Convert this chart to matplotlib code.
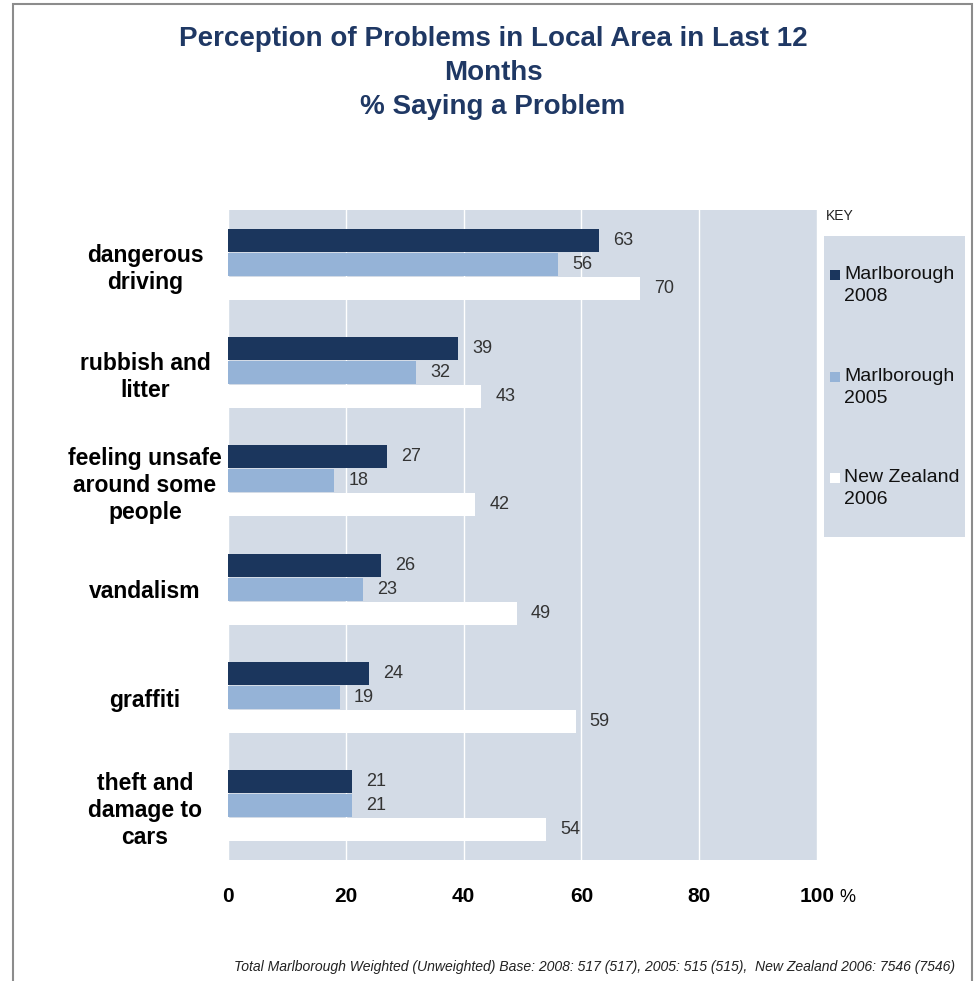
import matplotlib
matplotlib.use("Agg")
import matplotlib.pyplot as plt
from matplotlib.patches import Rectangle
import numpy as np

plt.rcParams['font.family'] = ['Liberation Sans', 'DejaVu Sans']

categories = ["dangerous\ndriving", "rubbish and\nlitter", "feeling unsafe\naround some\npeople",
              "vandalism", "graffiti", "theft and\ndamage to\ncars"]
series_names = ["Marlborough\n2008", "Marlborough\n2005", "New Zealand\n2006"]
marlborough_2008 = [63, 39, 27, 26, 24, 21]
marlborough_2005 = [56, 32, 18, 23, 19, 21]
new_zealand_2006 = [70, 43, 42, 49, 59, 54]
x_ticks = [0, 20, 40, 60, 80, 100]
x_tick_labels = ["0", "20", "40", "60", "80", "100"]

colors = ["#1B365D", "#95B3D7", "#FFFFFF"]
panel_bg = "#D3DBE6"
title_color = "#1F3864"

W, H = 980, 981
PX = 72 / 100  # points per pixel at dpi 100
fig = plt.figure(figsize=(9.8, 9.81), dpi=100)
fig.patch.set_facecolor("white")

# outer frame
fig.add_artist(Rectangle((13 / W, -0.01), (972 - 13) / W, (H - 4) / H + 0.01,
                         transform=fig.transFigure, fill=False,
                         edgecolor="#8C8C8C", linewidth=1.5))

ax = fig.add_axes([228 / W, 1 - 860 / H, (817 - 228) / W, (860 - 210) / H])
ax.set_facecolor(panel_bg)

y = np.arange(len(categories))
bar_h = 0.212
offsets = [-0.222, 0.0, 0.222]
all_series = [marlborough_2008, marlborough_2005, new_zealand_2006]

for vals, off, col in zip(all_series, offsets, colors):
    ax.barh(y + off, vals, height=bar_h, color=col, zorder=3)
    for yi, v in zip(y, vals):
        ax.text(v + 2.4, yi + off, str(v), va="center", ha="left",
                fontsize=13, color="#333333", zorder=4)

ax.set_xlim(0, 100)
ax.set_ylim(len(categories) - 0.5, -0.5)
ax.set_xticks(x_ticks)
ax.set_xticklabels(x_tick_labels, fontsize=15, fontweight="bold")
ax.set_yticks(y)
ax.set_yticklabels(categories, fontsize=16.5, fontweight="bold", ha="center",
                   linespacing=1.22)
ax.tick_params(axis="y", length=0, pad=83 * PX)
ax.tick_params(axis="x", length=0, pad=27 * PX)
for s in ax.spines.values():
    s.set_visible(False)
ax.xaxis.grid(True, color="white", linewidth=1, zorder=1)
ax.set_axisbelow(True)

# percent sign after the last tick label
fig.text(839 / W, 1 - 902 / H, "%", fontsize=13, va="baseline", ha="left")

# title
fig.text(493 / W, 1 - 73 / H,
         "Perception of Problems in Local Area in Last 12\nMonths\n% Saying a Problem",
         ha="center", va="center", fontsize=20, fontweight="bold",
         color=title_color, linespacing=1.4)

# key panel
fig.text(826 / W, 1 - 216 / H, "KEY", fontsize=10, va="center", ha="left", color="#222222")
fig.add_artist(Rectangle((824 / W, 1 - 537 / H), (965 - 824) / W, (537 - 236) / H,
                         transform=fig.transFigure, facecolor=panel_bg, edgecolor="none"))
key_y = [275, 377, 478]
for name, col, ky in zip(series_names, colors, key_y):
    fig.add_artist(Rectangle((830 / W, 1 - (ky + 5) / H), 10 / W, 10 / H,
                             transform=fig.transFigure, facecolor=col, edgecolor="none"))
    fig.text(844 / W, 1 - (ky - 9) / H, name, fontsize=14, va="top", ha="left",
             color="#111111", linespacing=1.35)

# footnote
fig.text(955 / W, 1 - 967 / H,
         "Total Marlborough Weighted (Unweighted) Base: 2008: 517 (517), 2005: 515 (515),  New Zealand 2006: 7546 (7546)",
         fontsize=10.1, style="italic", ha="right", va="center", color="#222222")

fig.savefig("out.png", dpi=100, facecolor="white")
